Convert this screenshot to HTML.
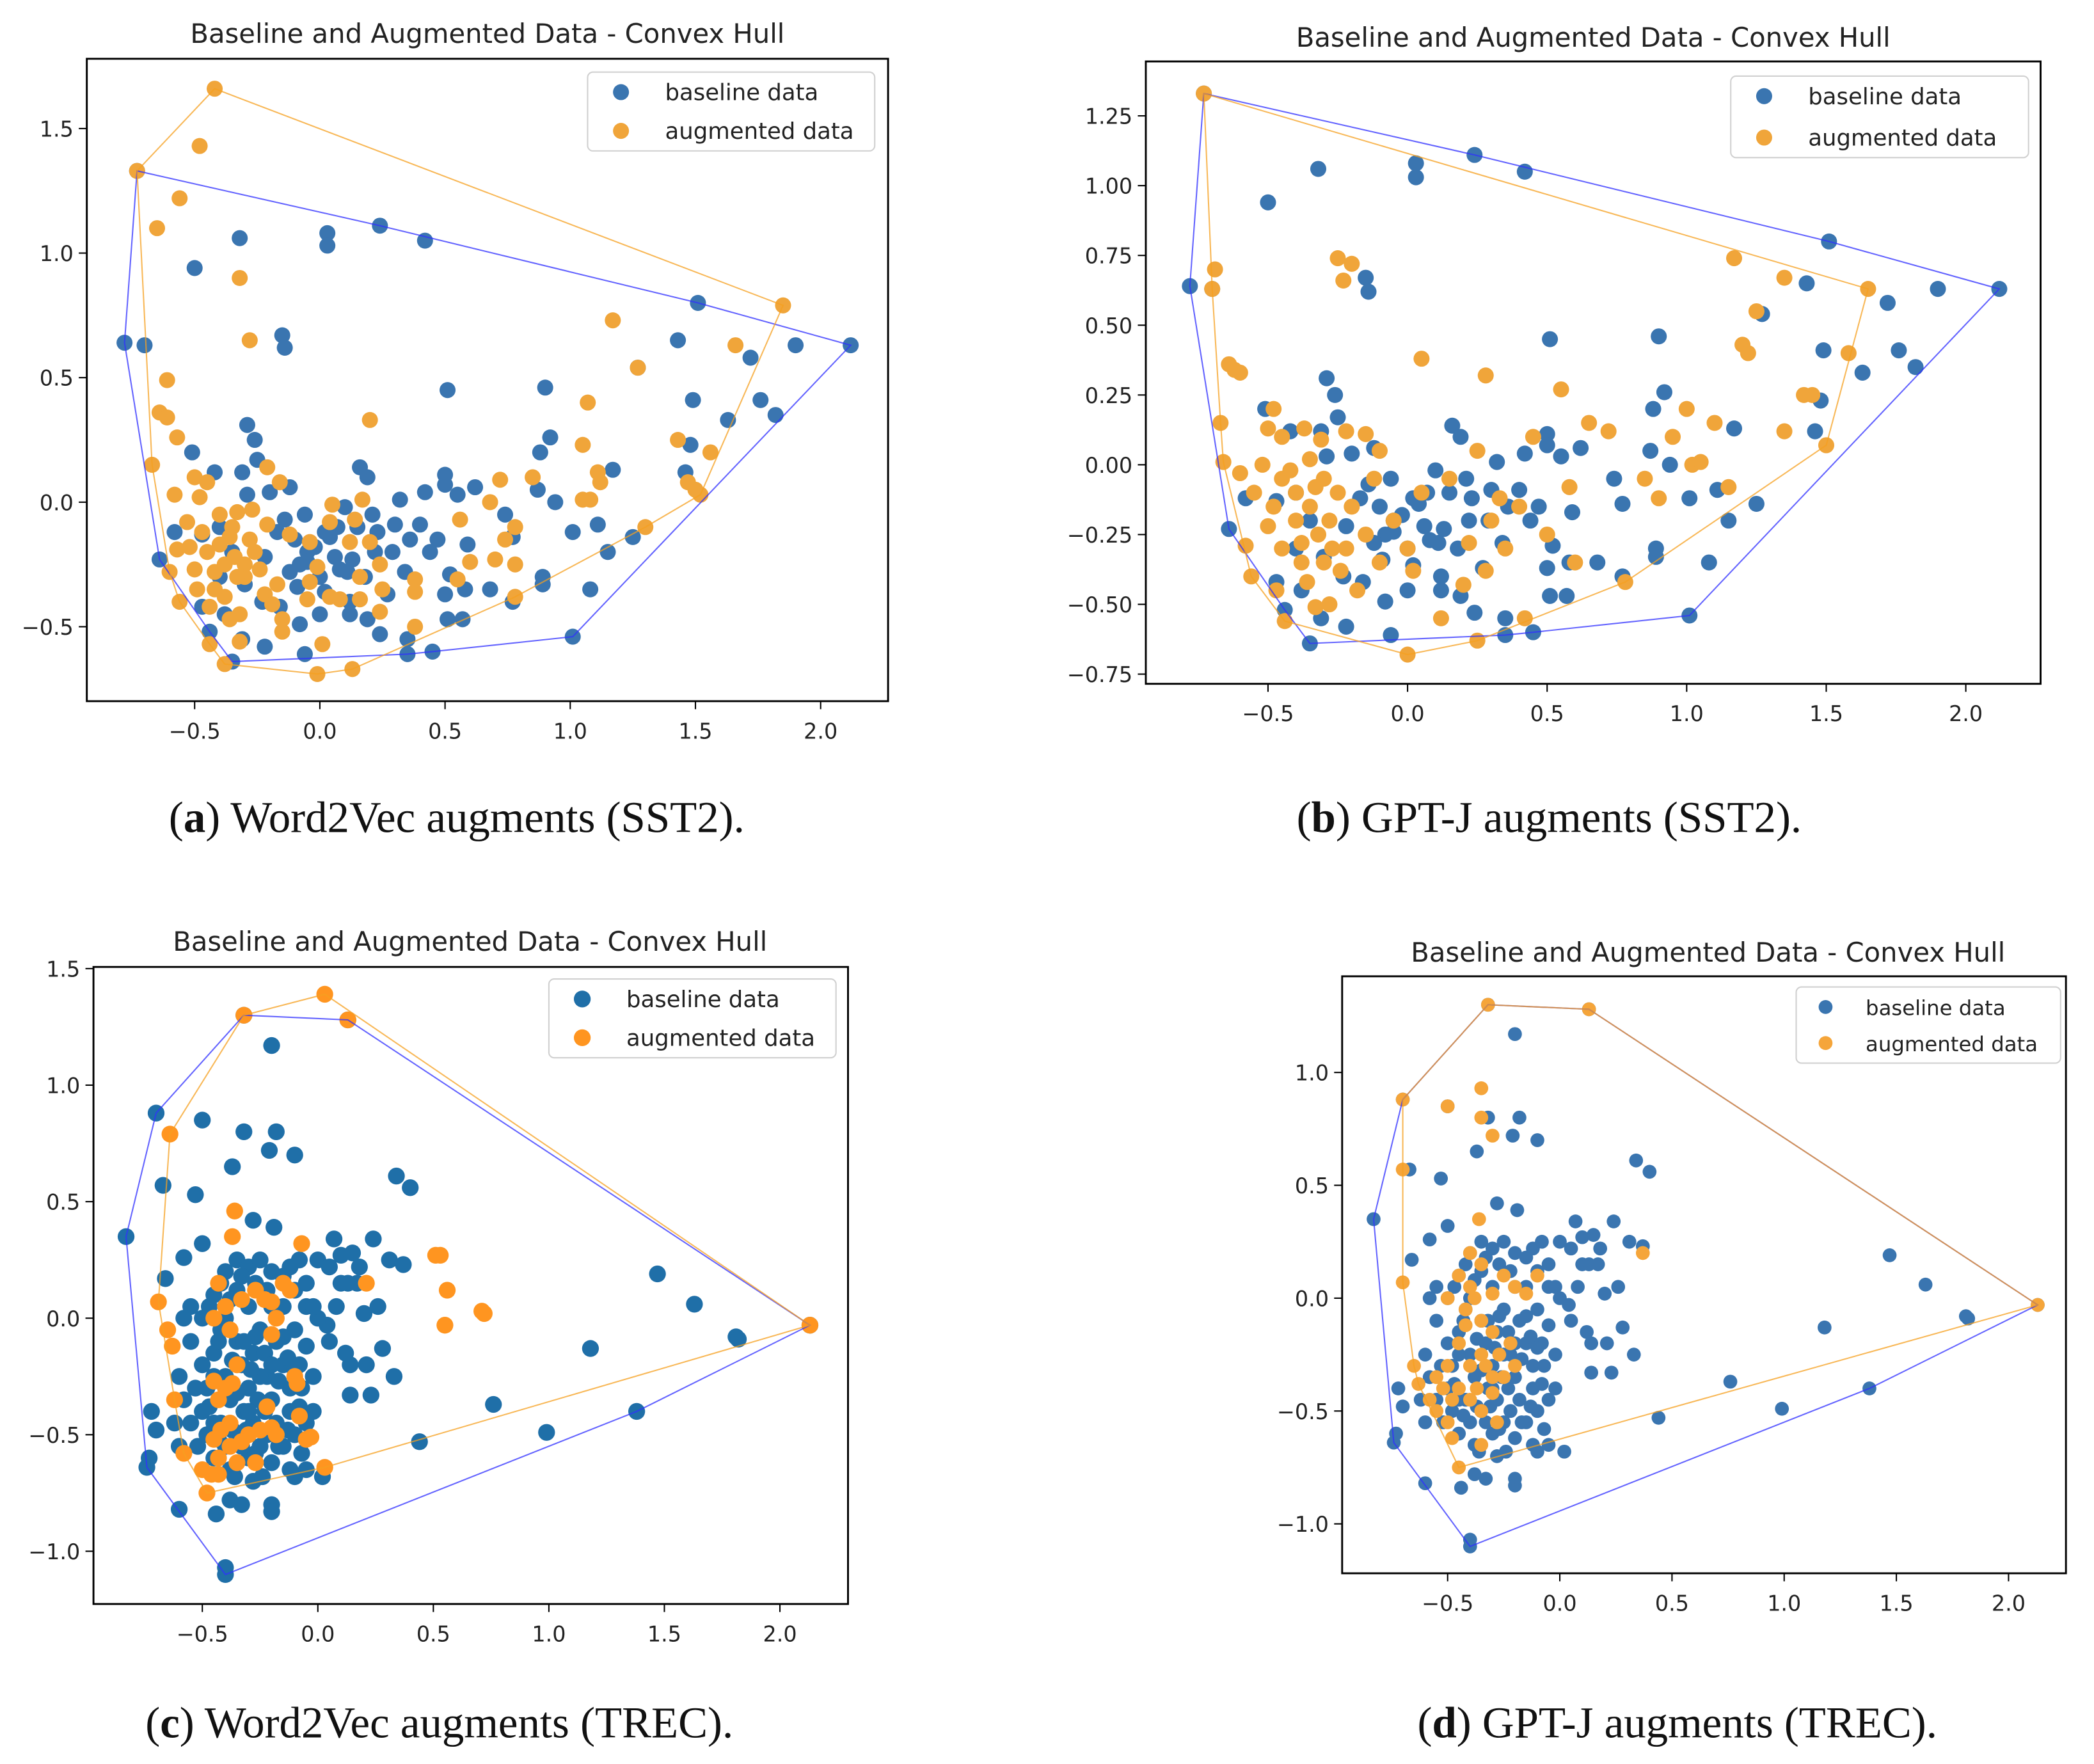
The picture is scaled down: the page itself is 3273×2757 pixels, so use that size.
<!DOCTYPE html>
<html><head><meta charset="utf-8"><style>
html,body{margin:0;padding:0;background:#fff;}
svg{display:block;}
text{font-family:"DejaVu Sans","Liberation Sans",sans-serif;fill:#222;}
.cap{font-family:"Liberation Serif",serif;fill:#111;}
</style></head><body>
<svg id="fig" width="3273" height="2757" viewBox="0 0 1568 1320.8" xmlns="http://www.w3.org/2000/svg"></svg>
<script>
const baselineSST2 = [[-0.78,0.64],[-0.70,0.63],[-0.73,1.33],[-0.50,0.94],[-0.32,1.06],[0.03,1.08],[0.03,1.03],[0.24,1.11],[0.42,1.05],[1.51,0.80],[2.12,0.63],[1.90,0.63],[1.72,0.58],[1.43,0.65],[1.27,0.54],[0.51,0.45],[0.90,0.46],[1.49,0.41],[1.76,0.41],[1.82,0.35],[1.63,0.33],[-0.15,0.67],[-0.14,0.62],[-0.29,0.31],[-0.26,0.25],[-0.51,0.20],[-0.25,0.17],[-0.42,0.12],[-0.31,0.12],[0.16,0.14],[0.19,0.10],[0.50,0.11],[0.50,0.07],[0.55,0.03],[0.62,0.06],[0.92,0.26],[0.88,0.20],[0.87,0.05],[0.94,0.00],[1.17,0.13],[1.48,0.23],[1.46,0.12],[0.32,0.01],[0.42,0.04],[-0.12,0.06],[-0.20,0.04],[-0.29,0.03],[0.10,-0.02],[0.21,-0.05],[0.07,-0.10],[0.04,-0.14],[0.40,-0.09],[0.47,-0.15],[0.59,-0.17],[0.74,-0.05],[0.77,-0.14],[1.01,-0.12],[1.11,-0.09],[1.25,-0.14],[1.15,-0.20],[-0.06,-0.05],[-0.10,-0.15],[-0.05,-0.20],[-0.08,-0.25],[0.00,-0.30],[0.06,-0.22],[0.11,-0.28],[0.22,-0.20],[0.29,-0.20],[0.34,-0.28],[0.36,-0.15],[0.44,-0.20],[0.50,-0.37],[0.52,-0.29],[0.58,-0.35],[0.68,-0.35],[0.77,-0.40],[0.89,-0.30],[0.89,-0.33],[1.08,-0.35],[1.01,-0.54],[-0.47,-0.13],[-0.40,-0.10],[-0.35,-0.20],[-0.22,-0.22],[-0.30,-0.33],[-0.40,-0.30],[-0.47,-0.42],[-0.38,-0.45],[-0.23,-0.40],[-0.16,-0.42],[-0.08,-0.49],[0.00,-0.45],[-0.44,-0.52],[-0.31,-0.55],[-0.22,-0.58],[0.02,-0.36],[0.12,-0.45],[0.19,-0.47],[0.24,-0.53],[0.35,-0.55],[0.35,-0.61],[0.45,-0.60],[0.51,-0.47],[0.57,-0.47],[-0.06,-0.61],[-0.35,-0.64],[-0.64,-0.23],[-0.58,-0.12],[0.12,-0.40],[0.15,-0.10],[0.23,-0.12],[-0.14,-0.07],[-0.17,-0.12],[-0.05,-0.24],[-0.02,-0.18],[0.08,-0.27],[0.18,-0.30],[0.27,-0.37],[-0.12,-0.28],[0.02,-0.12],[-0.09,-0.34],[0.30,-0.09],[0.13,-0.23]];
const augmentedW2VSST2 = [[-0.42,1.66],[-0.48,1.43],[-0.73,1.33],[-0.56,1.22],[-0.65,1.10],[-0.32,0.90],[-0.28,0.65],[-0.61,0.49],[-0.64,0.36],[-0.61,0.34],[-0.67,0.15],[-0.57,0.26],[1.85,0.79],[1.17,0.73],[1.66,0.63],[1.27,0.54],[1.07,0.40],[0.20,0.33],[1.05,0.23],[1.43,0.25],[1.56,0.20],[1.11,0.12],[1.12,0.08],[0.72,0.09],[0.85,0.10],[1.05,0.01],[1.08,0.01],[1.47,0.08],[1.50,0.05],[1.52,0.03],[0.68,0.00],[0.05,-0.01],[0.17,0.01],[-0.21,0.14],[-0.16,0.08],[-0.50,0.10],[-0.45,0.08],[-0.58,0.03],[-0.48,0.02],[-0.33,-0.04],[-0.27,-0.03],[-0.21,-0.09],[-0.12,-0.13],[-0.04,-0.16],[0.04,-0.08],[0.14,-0.07],[0.12,-0.16],[0.20,-0.16],[0.56,-0.07],[0.74,-0.15],[0.78,-0.10],[1.30,-0.10],[0.60,-0.24],[0.70,-0.23],[0.78,-0.25],[0.55,-0.31],[0.38,-0.31],[0.38,-0.36],[0.24,-0.25],[0.24,-0.44],[0.25,-0.35],[0.16,-0.30],[0.16,-0.39],[-0.01,-0.26],[-0.04,-0.32],[0.04,-0.38],[-0.05,-0.39],[-0.17,-0.33],[-0.22,-0.37],[-0.19,-0.41],[-0.15,-0.47],[-0.15,-0.52],[-0.30,-0.25],[-0.30,-0.30],[-0.40,-0.17],[-0.38,-0.25],[-0.45,-0.20],[-0.52,-0.18],[-0.50,-0.27],[-0.57,-0.19],[-0.60,-0.28],[-0.42,-0.35],[-0.49,-0.35],[-0.38,-0.38],[-0.33,-0.30],[-0.32,-0.45],[-0.36,-0.47],[-0.56,-0.40],[-0.44,-0.57],[-0.32,-0.56],[-0.38,-0.65],[-0.01,-0.69],[0.13,-0.67],[0.01,-0.57],[0.38,-0.50],[0.78,-0.38],[-0.35,-0.10],[-0.40,-0.05],[-0.28,-0.15],[-0.24,-0.27],[0.08,-0.39],[-0.36,-0.14],[-0.34,-0.22],[-0.42,-0.28],[-0.47,-0.12],[-0.53,-0.08],[-0.26,-0.20],[-0.44,-0.42]];
const augmentedGPTJSST2 = [[-0.73,1.33],[-0.69,0.70],[-0.70,0.63],[-0.64,0.36],[-0.62,0.34],[-0.60,0.33],[-0.67,0.15],[-0.66,0.01],[-0.60,-0.03],[-0.58,-0.29],[-0.56,-0.40],[-0.47,-0.45],[-0.44,-0.56],[-0.33,-0.51],[-0.28,-0.50],[-0.25,0.74],[-0.20,0.72],[-0.23,0.66],[-0.48,0.20],[-0.50,0.13],[-0.45,0.10],[-0.37,0.13],[-0.31,0.09],[-0.22,0.12],[-0.15,0.11],[-0.10,0.05],[-0.45,-0.05],[-0.40,-0.10],[-0.35,-0.15],[-0.30,-0.05],[-0.28,-0.20],[-0.25,-0.10],[-0.40,-0.20],[-0.45,-0.30],[-0.38,-0.35],[-0.32,-0.25],[-0.30,-0.35],[-0.22,-0.30],[-0.20,-0.15],[-0.15,-0.25],[-0.12,-0.05],[-0.10,-0.35],[-0.05,-0.20],[0.00,-0.30],[0.00,-0.68],[0.02,-0.38],[0.05,-0.10],[0.05,0.38],[0.28,0.32],[0.25,-0.63],[0.12,-0.55],[0.20,-0.43],[0.22,-0.28],[0.28,-0.38],[0.30,-0.20],[0.33,-0.12],[0.35,-0.30],[0.42,-0.55],[0.40,-0.15],[0.45,0.10],[0.50,-0.25],[0.55,0.27],[0.58,-0.08],[0.60,-0.35],[0.72,0.12],[0.78,-0.42],[0.85,-0.05],[0.90,-0.12],[0.95,0.10],[1.00,0.20],[1.02,0.00],[1.05,0.01],[1.10,0.15],[1.15,-0.08],[1.25,0.55],[1.20,0.43],[1.22,0.40],[1.35,0.12],[1.42,0.25],[1.45,0.25],[1.50,0.07],[1.58,0.40],[1.65,0.63],[1.17,0.74],[1.35,0.67],[0.65,0.15],[0.25,0.05],[0.15,-0.05],[-0.55,-0.10],[-0.50,-0.22],[-0.35,0.02],[-0.18,-0.45],[-0.42,-0.02],[-0.38,-0.28],[-0.33,-0.08],[-0.27,-0.30],[-0.48,-0.15],[-0.36,-0.42],[-0.24,-0.38],[-0.52,0.00]];
const baselineTREC = [[-0.83,0.35],[-0.70,0.88],[-0.32,1.30],[0.13,1.28],[2.13,-0.03],[1.38,-0.40],[-0.40,-1.10],[-0.74,-0.64],[-0.20,1.17],[-0.50,0.85],[-0.32,0.80],[-0.18,0.80],[-0.21,0.72],[-0.10,0.70],[-0.37,0.65],[-0.67,0.57],[-0.53,0.53],[0.34,0.61],[0.40,0.56],[-0.28,0.42],[-0.19,0.39],[-0.50,0.32],[-0.58,0.26],[-0.66,0.17],[0.07,0.34],[0.24,0.34],[0.31,0.25],[0.37,0.23],[0.17,0.15],[0.13,0.15],[0.26,0.05],[0.20,0.02],[0.04,-0.03],[0.05,-0.10],[0.28,-0.13],[0.33,-0.25],[0.23,-0.33],[0.14,-0.33],[0.14,-0.20],[0.21,-0.20],[0.12,-0.15],[1.47,0.19],[1.63,0.06],[1.81,-0.08],[1.82,-0.09],[1.18,-0.13],[0.76,-0.37],[0.99,-0.49],[0.44,-0.53],[-0.72,-0.40],[-0.70,-0.48],[-0.73,-0.60],[-0.60,-0.82],[-0.44,-0.84],[-0.38,-0.78],[-0.33,-0.80],[-0.20,-0.80],[-0.20,-0.83],[-0.40,-1.07],[0.02,-0.68],[-0.10,-0.68],[-0.05,-0.65],[-0.55,0.05],[-0.50,0.00],[-0.45,0.10],[-0.40,0.20],[-0.35,0.25],[-0.30,0.22],[-0.25,0.25],[-0.20,0.20],[-0.15,0.18],[-0.10,0.12],[-0.05,0.15],[0.00,0.25],[0.05,0.22],[0.10,0.27],[0.15,0.28],[0.18,0.22],[-0.05,0.05],[0.00,0.00],[-0.55,-0.10],[-0.50,-0.20],[-0.48,-0.30],[-0.45,-0.15],[-0.42,-0.05],[-0.40,-0.25],[-0.38,-0.35],[-0.35,-0.10],[-0.33,-0.20],[-0.30,-0.30],[-0.28,-0.15],[-0.25,-0.05],[-0.22,-0.25],[-0.20,-0.35],[-0.18,-0.10],[-0.15,-0.20],[-0.12,-0.30],[-0.10,-0.05],[-0.08,-0.20],[-0.05,-0.12],[-0.02,-0.25],[-0.55,-0.45],[-0.52,-0.55],[-0.50,-0.40],[-0.48,-0.50],[-0.45,-0.60],[-0.42,-0.45],[-0.40,-0.55],[-0.38,-0.65],[-0.35,-0.50],[-0.32,-0.40],[-0.30,-0.60],[-0.28,-0.45],[-0.25,-0.55],[-0.22,-0.50],[-0.20,-0.62],[-0.18,-0.45],[-0.15,-0.55],[-0.12,-0.40],[-0.10,-0.50],[-0.08,-0.38],[-0.05,-0.45],[-0.02,-0.40],[-0.60,-0.25],[-0.58,-0.35],[-0.62,-0.45],[-0.60,-0.55],[-0.30,0.05],[-0.20,0.05],[-0.35,0.12],[-0.45,-0.25],[-0.28,-0.70],[-0.12,-0.65],[-0.58,0.00],[-0.02,0.05],[-0.38,0.08],[-0.27,-0.08],[-0.15,-0.08],[-0.33,-0.55],[-0.25,-0.25],[-0.40,0.00],[-0.47,0.05],[-0.43,-0.10],[-0.37,-0.18],[-0.32,-0.10],[-0.29,-0.22],[-0.26,-0.35],[-0.23,-0.15],[-0.17,-0.27],[-0.13,-0.17],[-0.07,-0.30],[-0.53,-0.30],[-0.47,-0.38],[-0.43,-0.52],[-0.37,-0.48],[-0.31,-0.48],[-0.27,-0.58],[-0.23,-0.40],[-0.17,-0.55],[-0.13,-0.48],[-0.07,-0.58],[-0.33,0.18],[-0.27,0.15],[-0.22,0.12],[-0.12,0.22],[-0.08,0.25],[-0.35,-0.32],[-0.45,-0.45],[-0.30,-0.40],[-0.20,-0.20],[-0.10,-0.22],[-0.42,0.15],[0.10,0.15],[0.08,0.05],[-0.15,0.05],[-0.36,-0.68],[-0.24,-0.68]];
const augmentedW2VTREC = [[-0.32,1.30],[0.03,1.39],[0.13,1.28],[-0.64,0.79],[-0.36,0.46],[-0.37,0.35],[-0.07,0.32],[0.51,0.27],[0.53,0.27],[0.56,0.12],[0.21,0.15],[0.71,0.03],[0.72,0.02],[0.55,-0.03],[2.13,-0.03],[-0.69,0.07],[-0.65,-0.05],[-0.63,-0.12],[-0.62,-0.35],[-0.58,-0.58],[-0.50,-0.65],[-0.46,-0.67],[-0.43,-0.67],[-0.48,-0.75],[-0.35,-0.62],[0.03,-0.64],[-0.43,0.15],[-0.40,0.05],[-0.45,0.00],[-0.38,-0.05],[-0.33,0.08],[-0.27,0.12],[-0.23,0.08],[-0.20,0.07],[-0.15,0.15],[-0.12,0.12],[-0.20,-0.07],[-0.18,0.00],[-0.35,-0.20],[-0.45,-0.27],[-0.40,-0.30],[-0.37,-0.28],[-0.43,-0.35],[-0.38,-0.45],[-0.42,-0.48],[-0.45,-0.52],[-0.38,-0.55],[-0.30,-0.50],[-0.25,-0.48],[-0.20,-0.47],[-0.18,-0.50],[-0.22,-0.38],[-0.10,-0.25],[-0.09,-0.28],[-0.08,-0.42],[-0.05,-0.52],[-0.03,-0.51],[-0.33,-0.53],[-0.27,-0.62],[-0.43,-0.60]];
const augmentedGPTJTREC = [[-0.32,1.30],[0.13,1.28],[-0.70,0.88],[-0.50,0.85],[-0.35,0.93],[-0.35,0.80],[-0.30,0.72],[-0.70,0.57],[-0.36,0.35],[-0.70,0.07],[0.37,0.20],[2.13,-0.03],[-0.65,-0.30],[-0.63,-0.38],[-0.58,-0.45],[-0.55,-0.50],[-0.50,-0.55],[-0.48,-0.62],[-0.45,-0.75],[-0.35,-0.65],[-0.40,0.20],[-0.45,0.10],[-0.40,0.05],[-0.38,0.00],[-0.42,-0.05],[-0.35,-0.10],[-0.30,-0.15],[-0.25,0.10],[-0.20,0.05],[-0.15,0.02],[-0.10,0.10],[-0.45,-0.20],[-0.40,-0.30],[-0.35,-0.25],[-0.30,-0.35],[-0.45,-0.40],[-0.40,-0.45],[-0.35,-0.50],[-0.30,-0.42],[-0.25,-0.35],[-0.20,-0.30],[-0.50,-0.30],[-0.55,-0.35],[-0.28,-0.55],[-0.35,0.15],[-0.50,0.00],[-0.30,0.02],[-0.22,-0.20],[-0.42,-0.12],[-0.37,-0.40],[-0.33,-0.30],[-0.27,-0.25],[-0.48,-0.45],[-0.52,-0.40]];
const xTicksAll = [-0.5,0,0.5,1,1.5,2];
const yTicksA = [-0.5,0,0.5,1,1.5];
const yTicksB = [-0.75,-0.5,-0.25,0,0.25,0.5,0.75,1,1.25];
const yTicksC = [-1,-0.5,0,0.5,1,1.5];
const yTicksD = [-1,-0.5,0,0.5,1];
const legendLabels = ["baseline data","augmented data"];

const NS="http://www.w3.org/2000/svg";
const svg=document.getElementById('fig');
function mk(tag,attrs,parent){const e=document.createElementNS(NS,tag);for(const k in attrs)e.setAttribute(k,attrs[k]);(parent||svg).appendChild(e);return e;}
function fmt(v,d){return (v<0?'\u2212':'')+Math.abs(v).toFixed(d);}
function hull(pts){
  const p=pts.slice().sort((a,b)=>a[0]-b[0]||a[1]-b[1]);
  const cr=(o,a,b)=>(a[0]-o[0])*(b[1]-o[1])-(a[1]-o[1])*(b[0]-o[0]);
  const lo=[],up=[];
  for(const q of p){while(lo.length>=2&&cr(lo[lo.length-2],lo[lo.length-1],q)<=0)lo.pop();lo.push(q);}
  for(let i=p.length-1;i>=0;i--){const q=p[i];while(up.length>=2&&cr(up[up.length-2],up[up.length-1],q)<=0)up.pop();up.push(q);}
  up.pop();lo.pop();return lo.concat(up);
}
const panels=[
 {id:'a',L:65,R:665,T:44,B:525,x0:239.5,xu:187.5,y0:376,yu:186.5,yt:yTicksA,yd:1,base:baselineSST2,aug:augmentedW2VSST2,r:6,cb:'#3a75b0',ca:'#f0a53a',title:[365,25],leg:[440,54,215,59],lf:17,lo:[25,58],cap:[342,612,'Word2Vec augments (SST2).']},
 {id:'b',L:858,R:1528,T:46,B:512,x0:1054,xu:209,y0:348,yu:209,yt:yTicksB,yd:2,base:baselineSST2,aug:augmentedGPTJSST2,r:6,cb:'#3a75b0',ca:'#f0a53a',title:[1193,28],leg:[1296,57,223,61],lf:17,lo:[25,58],cap:[1160,612,'GPT-J augments (SST2).']},
 {id:'c',L:70,R:635,T:724,B:1201,x0:238,xu:173,y0:987,yu:174.5,yt:yTicksC,yd:1,base:baselineTREC,aug:augmentedW2VTREC,r:6.3,cb:'#1f6fa8',ca:'#ff9520',title:[352,705],leg:[411,733,215,59],lf:17,lo:[25,58],cap:[329,1290,'Word2Vec augments (TREC).']},
 {id:'d',L:1005,R:1547,T:731,B:1178,x0:1168,xu:168,y0:972,yu:169,yt:yTicksD,yd:1,base:baselineTREC,aug:augmentedGPTJTREC,r:5.2,cb:'#3a75b0',ca:'#f5a53a',title:[1279,713],leg:[1345,739,198,57],lf:15.5,lo:[22,52],cap:[1256,1290,'GPT-J augments (TREC).']}
];
panels.forEach(P=>{
  const g=mk('g',{});
  
  
  const X=v=>P.x0+v*P.xu, Y=v=>P.y0-v*P.yu;
  const t=mk('text',{x:P.title[0],y:P.title[1]+7,'text-anchor':'middle','font-size':20},g);
  t.textContent='Baseline and Augmented Data - Convex Hull';
  
  
  const cp='c'+P.id;
  const clip=mk('clipPath',{id:cp},g);mk('rect',{x:P.L,y:P.T,width:P.R-P.L,height:P.B-P.T},clip);
  const pg=mk('g',{'clip-path':'url(#'+cp+')'},g);
  P.base.forEach(d=>{const c=mk('circle',{cx:X(d[0]),cy:Y(d[1]),r:P.r,fill:P.cb},pg);
    
    });
  P.aug.forEach(d=>{const c=mk('circle',{cx:X(d[0]),cy:Y(d[1]),r:P.r,fill:P.ca},pg);
    
    });
  const hb=hull(P.base),ha=hull(P.aug);
  const pb=mk('polygon',{points:hb.map(d=>X(d[0])+','+Y(d[1])).join(' '),fill:'none',stroke:'#3030ff','stroke-opacity':0.75,'stroke-width':1},pg);
  
  
  const pa=mk('polygon',{points:ha.map(d=>X(d[0])+','+Y(d[1])).join(' '),fill:'none',stroke:'#f5a020','stroke-opacity':0.75,'stroke-width':1},pg);
  
  
  const fr=mk('rect',{x:P.L,y:P.T,width:P.R-P.L,height:P.B-P.T,fill:'none',stroke:'#000','stroke-width':1.4},g);
  
  
  xTicksAll.forEach(v=>{const x=X(v);mk('line',{x1:x,x2:x,y1:P.B,y2:P.B+6,stroke:'#000'},g);
    const tx=mk('text',{x:x,y:P.B+28,'text-anchor':'middle','font-size':16},g);tx.textContent=fmt(v,1);
    
    });
  P.yt.forEach(v=>{const y=Y(v);mk('line',{x1:P.L-6,x2:P.L,y1:y,y2:y,stroke:'#000'},g);
    const ty=mk('text',{x:P.L-10,y:y+6,'text-anchor':'end','font-size':16},g);ty.textContent=fmt(v,P.yd);
    
    });
  const [lx,ly,lw,lh]=P.leg;
  const lg=mk('g',{},g);
  
  
  mk('rect',{x:lx,y:ly,width:lw,height:lh,rx:4,fill:'#fff',stroke:'#d0d0d0'},lg);
  [P.cb,P.ca].forEach((col,i)=>{const yy=ly+15+i*(lh-30);
    mk('circle',{cx:lx+P.lo[0],cy:yy,r:P.r,fill:col},lg);
    const lt=mk('text',{x:lx+P.lo[1],y:yy+6,'font-size':P.lf},lg);lt.textContent=legendLabels[i];
    
    });
  const ct=mk('text',{x:P.cap[0],y:P.cap[1]+11,'text-anchor':'middle','font-size':33,class:'cap'},g);
  ct.innerHTML='(<tspan font-weight="bold">'+P.id+'</tspan>) '+P.cap[2];
  
  
});
</script>
</body></html>
